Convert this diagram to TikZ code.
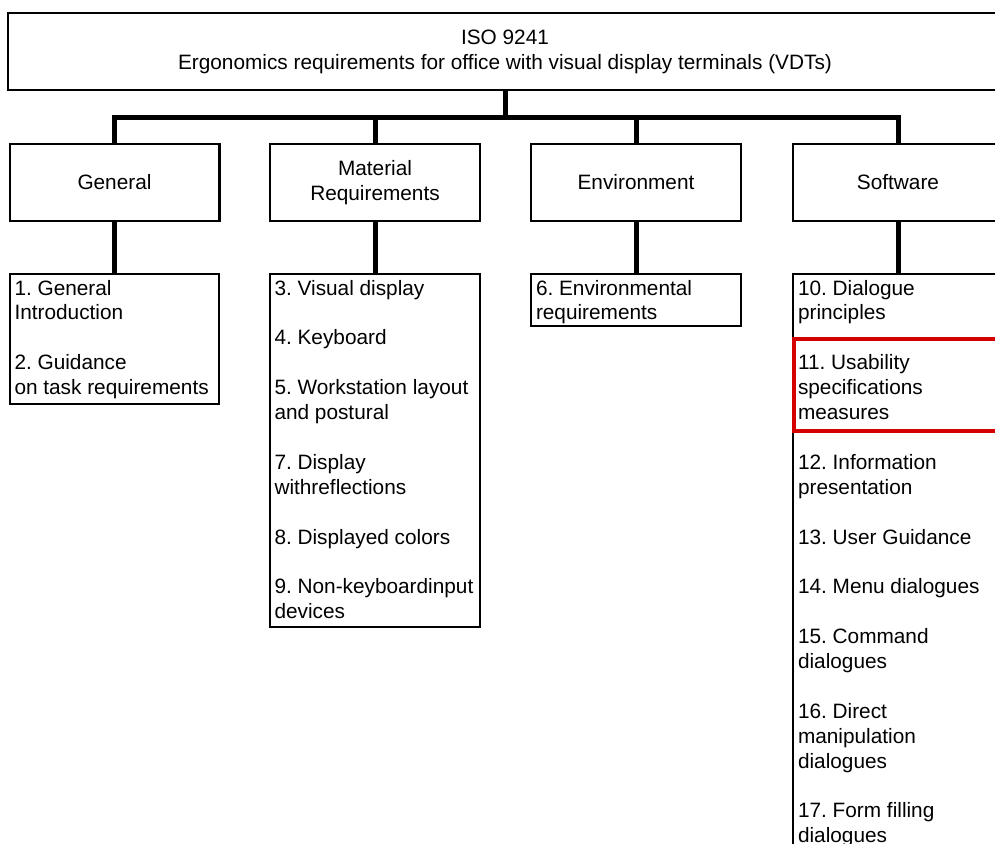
\documentclass[tikz,border=0pt]{standalone}
\usepackage{fontspec}
\setmainfont{Liberation Sans}
\frenchspacing
\definecolor{hlred}{RGB}{212,0,0}
\begin{document}
\begin{tikzpicture}[x=0.5pt,y=-0.5pt,
  box/.style={draw=black,line width=1.25pt,rectangle,inner sep=0pt,outer sep=0pt,
    align=center,font=\fontsize{10.4}{12.45}\selectfont},
  listtext/.style={inner sep=0pt,outer sep=0pt,anchor=north west,align=left,
    font=\fontsize{10.4}{12.45}\selectfont},
  conn/.style={draw=black,line width=2.5pt,line join=miter},
  redbox/.style={draw=hlred,line width=1.8pt,rectangle,inner sep=0pt,outer sep=0pt}]
\useasboundingbox (0,0) rectangle (995,844);
\clip (0,0) rectangle (995,844);
% top
\node[box,minimum width=497pt,minimum height=38.5pt] (top) at (505,51.5)
  {ISO 9241\\Ergonomics requirements for office with visual display terminals (VDTs)};
% level 2
\node[box,minimum width=104.75pt,minimum height=38.5pt] (gen) at (114.5,182.5) {General};
\node[box,minimum width=105pt,minimum height=38.5pt] (mat) at (375,182.5) {Material\\Requirements};
\node[box,minimum width=105pt,minimum height=38.5pt] (env) at (636,182.5) {Environment};
\node[box,minimum width=105pt,minimum height=38.5pt] (sw) at (898,182.5) {Software};
% level 3 boxes
\node[box,minimum width=104.5pt,minimum height=65pt] (genlist) at (114.5,339) {};
\node[box,minimum width=105pt,minimum height=176.5pt] (matlist) at (375,450.5) {};
\node[box,minimum width=105pt,minimum height=26pt] (envlist) at (636,300) {};
\node[box,minimum width=105pt,minimum height=298pt] (swlist) at (898,572) {};
% texts
\node[listtext] (gentext) at ([shift={(4.5,6)}]genlist.north west)
  {1. General\\Introduction\\[12.45pt]2. Guidance\\on task requirements};
\node[listtext] (mattext) at ([shift={(4.5,6)}]matlist.north west)
  {3. Visual display\\[12.45pt]4. Keyboard\\[12.45pt]5. Workstation layout\\and postural\\[12.45pt]7. Display\\withreflections\\[12.45pt]8. Displayed colors\\[12.45pt]9. Non-keyboardinput\\devices};
\node[listtext] (envtext) at ([shift={(5,6)}]envlist.north west)
  {6. Environmental\\requirements};
\node[listtext] (swtext) at ([shift={(5,6)}]swlist.north west)
  {10. Dialogue\\principles\\[12.45pt]11. Usability\\specifications\\measures\\[12.45pt]12. Information\\presentation\\[12.45pt]13. User Guidance\\[12.45pt]14. Menu dialogues\\[12.45pt]15. Command\\dialogues\\[12.45pt]16. Direct\\manipulation\\dialogues\\[12.45pt]17. Form filling\\dialogues};
% highlight
\node[redbox,minimum width=108pt,minimum height=46pt] (hl) at (902,385) {};
% connectors
\coordinate (bar) at (505,118);
\draw[conn] (top.south) -- (bar);
\draw[conn] (gen.north) |- (bar) -| (sw.north);
\draw[conn] (mat.north) -- (mat.north |- bar);
\draw[conn] (env.north) -- (env.north |- bar);
\draw[conn] (gen.south) -- (genlist.north);
\draw[conn] (mat.south) -- (matlist.north);
\draw[conn] (env.south) -- (envlist.north);
\draw[conn] (sw.south) -- (swlist.north);
\end{tikzpicture}
\end{document}
